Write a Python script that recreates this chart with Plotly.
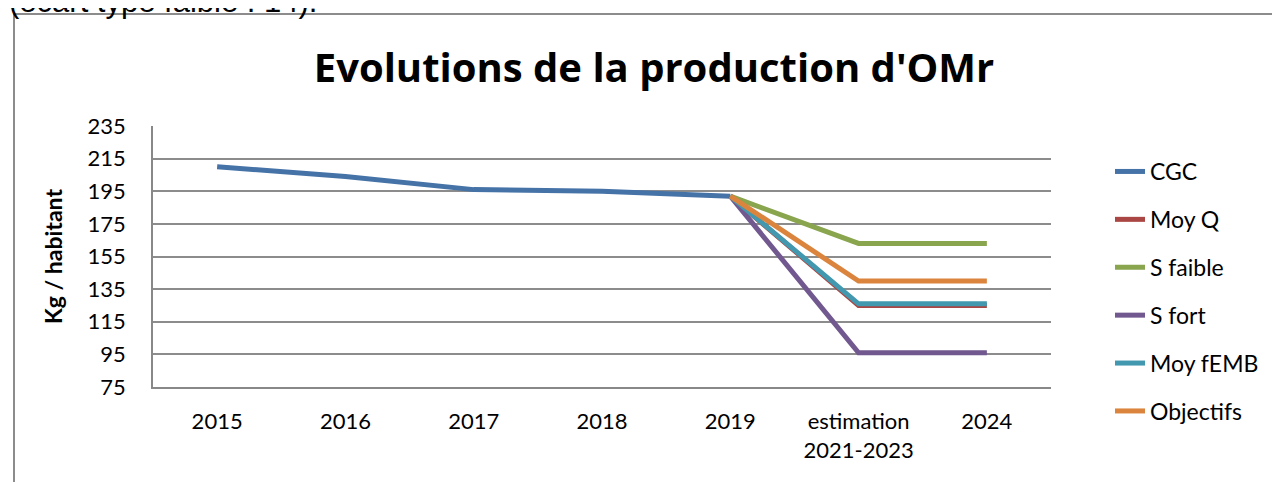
import plotly.graph_objects as go

categories = ["2015", "2016", "2017", "2018", "2019", "estimation<br>2021-2023", "2024"]
cgc = [210, 204, 196, 195, 192, None, None]
moy_q = [None, None, None, None, 192, 125, 125]
s_faible = [None, None, None, None, 192, 163, 163]
s_fort = [None, None, None, None, 192, 96, 96]
moy_femb = [None, None, None, None, 192, 126, 126]
objectifs = [None, None, None, None, 192, 140, 140]

series = [
    ("CGC", cgc, "#4572A7"),
    ("Moy Q", moy_q, "#AA4643"),
    ("S faible", s_faible, "#89A54E"),
    ("S fort", s_fort, "#71588F"),
    ("Moy fEMB", moy_femb, "#4198AF"),
    ("Objectifs", objectifs, "#DB843D"),
]

W, H = 1280, 482
OFF = 8  # page body margin
# plot-area (gs) in figure pixels
GL, GR, GT, GB = 145, 1043, 88, 432
# y-axis extents in page pixels
AT, AB = 126, 387

def px(xpage):
    return (xpage - OFF - GL) / (GR - GL)

def py(ypage):
    return (GB - (ypage - OFF)) / (GB - GT)

fig = go.Figure()
for i, (name, vals, color) in enumerate(series):
    fig.add_trace(go.Scatter(
        x=categories, y=vals, name=name, mode="lines",
        line=dict(color=color, width=5),
        legendgroup=name, legendrank=i + 1,
    ))

font_main = "Lato, Calibri, Carlito, sans-serif"

fig.update_layout(
    width=W, height=H,
    margin=dict(l=GL, r=W - GR, t=GT, b=H - GB, autoexpand=False),
    paper_bgcolor="white", plot_bgcolor="white",
    font=dict(family=font_main, size=22, color="black"),
    title=dict(text="<b>Evolutions de la production d'OMr</b>",
               x=(654 - OFF) / W, xanchor="center", y=1 - (68 - OFF) / H, yanchor="middle",
               xref="container", yref="container",
               font=dict(size=40, family="Open Sans, sans-serif", color="black")),
    xaxis=dict(type="category", range=[-0.5, 6.5], showline=True,
               linecolor="#888888", linewidth=1.5, showgrid=False, ticks="",
               tickfont=dict(size=22), automargin=False, ticklabelstandoff=14,
               anchor="y"),
    yaxis=dict(range=[75, 235], tick0=75, dtick=20, showline=True,
               domain=[py(AB), py(AT)],
               linecolor="#888888", linewidth=1.5, gridcolor="#8c8c8c", gridwidth=1.5,
               ticks="", zeroline=False, tickfont=dict(size=22), automargin=False,
               ticklabelstandoff=21,
               title=dict(text="<b>Kg / habitant</b>", font=dict(size=23), standoff=19)),
    legend=dict(x=px(1110), xanchor="left", y=py(150), yanchor="top",
                font=dict(size=23, family=font_main), tracegroupgap=15,
                bgcolor="rgba(0,0,0,0)"),
    showlegend=True,
)

# outer frame
fig.add_shape(type="line", xref="paper", yref="paper",
              x0=px(14), x1=px(1300), y0=py(14), y1=py(14),
              line=dict(color="#8c8c8c", width=2))
fig.add_shape(type="line", xref="paper", yref="paper",
              x0=px(14), x1=px(14), y0=py(14), y1=py(500),
              line=dict(color="#8c8c8c", width=2))

fig.add_annotation(text="(écart type faible : 14).", xref="paper", yref="paper",
                   x=px(7), xanchor="left", y=py(21), yanchor="bottom",
                   showarrow=False,
                   font=dict(family="Liberation Sans, Arial, sans-serif", size=31, color="black"))

fig.write_html("out.html")
